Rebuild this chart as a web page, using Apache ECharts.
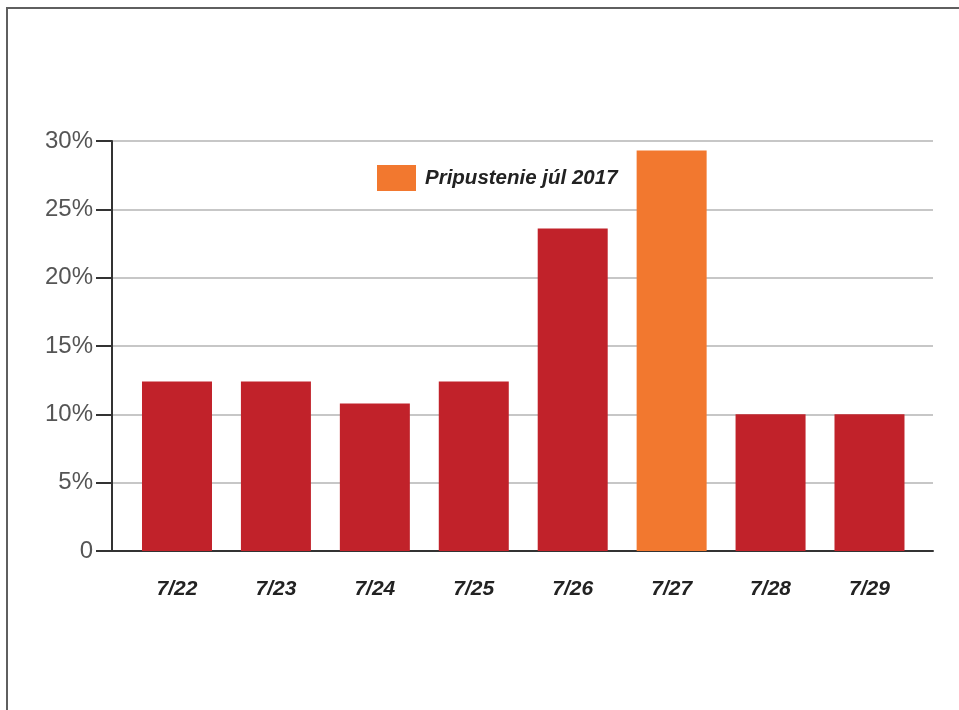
<!DOCTYPE html>
<html>
<head>
<meta charset="utf-8">
<script src="https://cdn.jsdelivr.net/npm/echarts@6/dist/echarts.min.js"></script>
<style>
  html, body { margin: 0; padding: 0; background: #fff; }
  #wrap { position: relative; width: 959px; height: 710px; overflow: hidden; background: #fff; }
  #frame { position: absolute; left: 6px; top: 7px; right: -4px; bottom: -4px;
           border-top: 2px solid #5f5f5f; border-left: 2px solid #5f5f5f; }
  #chart { position: absolute; left: 0; top: 0; width: 959px; height: 710px; }
</style>
</head>
<body>
<div id="wrap">
  <div id="frame"></div>
  <div id="chart"></div>
</div>
<script>
// Days of the week shown on the horizontal axis
const categories = ['7/22', '7/23', '7/24', '7/25', '7/26', '7/27', '7/28', '7/29'];
// Share of admissions per day (%)
const shares = [12.4, 12.4, 10.8, 12.4, 23.6, 29.3, 10.0, 10.0];
// Index of the highlighted day
const highlightIndex = 5;
const highlightName = 'Pripustenie júl 2017';
const yTicks = [0, 5, 10, 15, 20, 25, 30];

const RED = '#c1222a';
const ORANGE = '#f2782f';

const redData = shares.map((v, i) => i === highlightIndex ? [i, '-'] : [i, v]);
const orangeData = shares.map((v, i) => i === highlightIndex ? [i, v] : [i, '-']);

const chart = echarts.init(document.getElementById('chart'), null, { renderer: 'canvas' });

chart.setOption({
  animation: false,
  backgroundColor: 'transparent',
  grid: { left: 112, right: 26, top: 141, bottom: 159, containLabel: false },
  legend: {
    data: [highlightName],
    left: 377, top: 165,
    padding: 0,
    itemWidth: 39, itemHeight: 26,
    icon: 'rect',
    textStyle: {
      fontFamily: 'Liberation Sans, Arial, sans-serif',
      fontSize: 20.5, fontWeight: 'bold', fontStyle: 'italic', color: '#222',
      padding: [0, 0, 0, 4]
    },
    selectedMode: false
  },
  xAxis: {
    type: 'value',
    min: -0.657,
    max: 7.642,
    axisLine: { show: true, onZero: false, lineStyle: { color: '#333', width: 2 } },
    axisTick: { show: false },
    splitLine: { show: false },
    axisLabel: {
      customValues: categories.map((c, i) => i),
      formatter: v => categories[Math.round(v)] || '',
      margin: 28,
      fontFamily: 'Liberation Sans, Arial, sans-serif',
      fontSize: 21, fontWeight: 'bold', fontStyle: 'italic', color: '#222'
    }
  },
  yAxis: {
    type: 'value',
    min: 0, max: 30, interval: 5,
    axisLine: { show: true, onZero: false, lineStyle: { color: '#333', width: 2 } },
    axisTick: { show: true, length: 16, lineStyle: { color: '#333', width: 2 } },
    splitLine: { show: true, lineStyle: { color: '#b5b5b5', width: 1.5 } },
    axisLabel: {
      customValues: yTicks,
      margin: 19,
      formatter: v => (v === 0 ? '0' : v + '%'),
      fontFamily: 'Liberation Sans, Arial, sans-serif',
      fontSize: 24, color: '#555'
    }
  },
  series: [
    {
      name: 'Ostatné dni',
      type: 'bar',
      stack: 'days',
      barWidth: 70,
      itemStyle: { color: RED },
      data: redData
    },
    {
      name: highlightName,
      type: 'bar',
      stack: 'days',
      barWidth: 70,
      itemStyle: { color: ORANGE },
      data: orangeData
    }
  ]
});
</script>
</body>
</html>
